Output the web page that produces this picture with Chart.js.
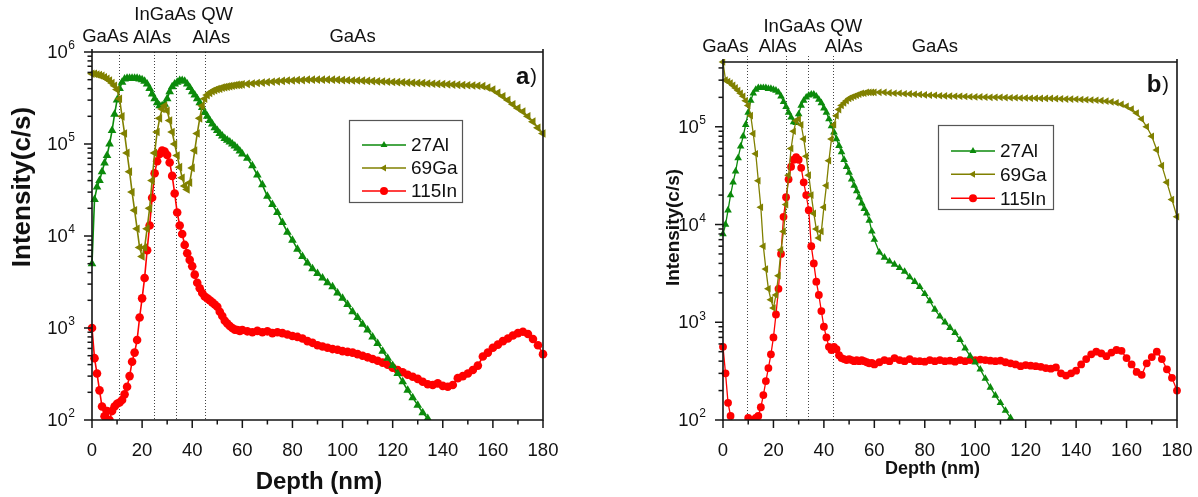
<!DOCTYPE html>
<html><head><meta charset="utf-8">
<script src="https://cdn.jsdelivr.net/npm/chart.js@4/dist/chart.umd.min.js"></script>
<style>
html,body{margin:0;padding:0;background:#fff;}
#wrap{position:relative;width:1198px;height:497px;overflow:hidden;background:#fff;}
canvas{position:absolute;top:0;}
</style></head><body>
<div id="wrap">
<canvas id="ca" width="600" height="497" style="left:0px"></canvas>
<canvas id="cb" width="598" height="497" style="left:600px"></canvas>
</div>
<script>
// ---------------- DATA ----------------
const depth = [0,1,2,3,4,5,6,7,8,9,10,11,12,13,14,15,16,17,18,19,20,21,22,23,24,25,26,27,28,29,30,
31,32,33,34,35,36,37,38,39,40,41,42,43,44,45,46,47,48,49,50,51,52,53,54,55,56,57,58,59,60,
62,64,66,68,70,72,74,76,78,80,82,84,86,88,90,92,94,96,98,100,102,104,106,108,110,112,114,116,118,120,
122,124,126,128,130,132,134,136,138,140,142,144,146,148,150,152,154,156,158,160,162,164,166,168,170,172,174,176,178,180];

const seriesNames = ['27Al','69Ga','115In'];

// panel a)
const al_a = [5e3,2.5e4,3.4e4,4e4,5e4,6.2e4,7.5e4,1e5,1.4e5,2.1e5,3e5,4e5,4.7e5,5.1e5,5.2e5,5.2e5,5.2e5,5.2e5,5.2e5,5.1e5,5e5,
4.8e5,4.5e5,4e5,3.5e5,3.1e5,2.8e5,2.6e5,2.6e5,2.7e5,3.1e5,3.7e5,4.2e5,4.5e5,4.7e5,4.9e5,4.9e5,4.8e5,4.5e5,4.1e5,3.7e5,
3.4e5,3.1e5,2.8e5,2.5e5,2.2e5,2e5,1.8e5,1.65e5,1.5e5,1.4e5,1.3e5,1.22e5,1.15e5,1.1e5,1.05e5,1e5,9.5e4,9e4,8.4e4,7.8e4,
7e4,5.8e4,4.6e4,3.6e4,2.7e4,2.2e4,1.8e4,1.4e4,1.1e4,9e3,7.2e3,6e3,5.1e3,4.4e3,3.9e3,3.5e3,3.1e3,2.8e3,2.4e3,2.1e3,
1.8e3,1.5e3,1.3e3,1.1e3,950,800,680,560,470,390,320,260,210,175,145,120,104,88,
null,null,null,null,null,null,null,null,null,null,null,null,null,null,null,null,null,null,null,null,null,null];
const ga_a = [5.8e5,5.8e5,5.7e5,5.6e5,5.5e5,5.3e5,5.1e5,4.9e5,4.6e5,4.3e5,3.9e5,3.1e5,2e5,1.3e5,8e4,5e4,3e4,1.9e4,1.2e4,7.5e3,6e3,
7.5e3,1.2e4,2e4,4e4,8e4,1.35e5,1.9e5,2.4e5,2.6e5,2.3e5,1.8e5,1.35e5,1e5,7.5e4,5.6e4,4.3e4,3.5e4,3.2e4,3.8e4,5.5e4,
8.5e4,1.3e5,1.9e5,2.6e5,3.1e5,3.4e5,3.6e5,3.75e5,3.85e5,3.95e5,4e5,4.1e5,4.15e5,4.2e5,4.25e5,4.3e5,4.35e5,4.4e5,4.4e5,4.45e5,
4.5e5,4.55e5,4.6e5,4.65e5,4.7e5,4.75e5,4.8e5,4.85e5,4.9e5,4.9e5,4.95e5,4.95e5,5e5,5e5,5e5,5e5,5e5,5e5,4.98e5,4.95e5,
4.93e5,4.9e5,4.9e5,4.88e5,4.85e5,4.83e5,4.8e5,4.78e5,4.75e5,4.72e5,4.7e5,4.68e5,4.65e5,4.62e5,4.6e5,4.58e5,4.55e5,4.52e5,4.5e5,4.47e5,
4.45e5,4.42e5,4.4e5,4.37e5,4.35e5,4.32e5,4.3e5,4.25e5,4.1e5,3.9e5,3.6e5,3.3e5,3e5,2.7e5,2.45e5,2.25e5,2e5,1.75e5,1.5e5,1.3e5];
const in_a = [1e3,470,320,210,140,110,125,100,125,140,150,155,165,190,230,300,430,540,740,1.3e3,2.1e3,
3.5e3,7e3,1.3e4,2.6e4,4.8e4,6.5e4,7.8e4,8.5e4,8.3e4,7.6e4,6.3e4,4.5e4,2.9e4,1.8e4,1.3e4,1.05e4,8e3,6.5e3,5.5e3,4.7e3,
3.8e3,3.1e3,2.7e3,2.4e3,2.2e3,2.1e3,2e3,1.9e3,1.8e3,1.7e3,1.5e3,1.35e3,1.2e3,1.12e3,1.05e3,1e3,960,950,930,950,
920,900,930,900,920,880,900,880,850,820,800,770,720,690,650,630,610,590,580,560,
550,540,520,500,480,460,440,420,400,370,350,330,310,295,280,260,245,240,250,235,
230,240,285,300,320,350,390,490,540,610,660,720,770,830,880,910,860,760,650,520];

// panel b)
const al_b = [8e3,1e4,1.4e4,2e4,2.7e4,3.5e4,4.8e4,6.3e4,8e4,1.05e5,1.4e5,1.85e5,2.2e5,2.4e5,2.5e5,2.5e5,2.5e5,2.5e5,2.45e5,2.45e5,2.4e5,
2.35e5,2.25e5,2.05e5,1.8e5,1.6e5,1.4e5,1.25e5,1.12e5,1.1e5,1.35e5,1.65e5,1.85e5,2e5,2.1e5,2.15e5,2.15e5,2.05e5,1.9e5,1.75e5,1.55e5,
1.4e5,1.2e5,1.02e5,8.8e4,7.5e4,6.4e4,5.5e4,4.6e4,3.9e4,3.4e4,2.9e4,2.5e4,2.2e4,1.9e4,1.65e4,1.45e4,1.3e4,1.1e4,8.5e3,7e3,
5.2e3,4.6e3,4.2e3,3.9e3,3.6e3,3.3e3,2.9e3,2.6e3,2.3e3,1.95e3,1.65e3,1.35e3,1.15e3,1e3,880,780,660,540,450,390,
330,265,215,178,150,125,105,88,
null,null,null,null,null,null,null,null,null,null,null,null,null,null,null,null,null,null,null,null,null,null,null,null,null,null,null,null,null,null,null,null];
const ga_b = [4.6e5,3e5,2.9e5,2.8e5,2.65e5,2.5e5,2.35e5,2.2e5,2.05e5,1.85e5,1.65e5,1.3e5,8.5e4,5.3e4,2.8e4,1.5e4,6e3,3.5e3,2.2e3,1.7e3,1.4e3,
1.9e3,3e3,5.5e3,8.5e3,1.6e4,3.2e4,6e4,9e4,1.15e5,1.2e5,1.05e5,7.5e4,5e4,3.2e4,2e4,1.3e4,9e3,7.3e3,8.5e3,1.5e4,
2.5e4,4.5e4,7.5e4,1.05e5,1.3e5,1.5e5,1.65e5,1.75e5,1.85e5,1.95e5,2e5,2.05e5,2.1e5,2.15e5,2.2e5,2.2e5,2.25e5,2.25e5,2.25e5,2.25e5,
2.25e5,2.25e5,2.22e5,2.2e5,2.2e5,2.18e5,2.17e5,2.15e5,2.14e5,2.12e5,2.1e5,2.1e5,2.08e5,2.07e5,2.06e5,2.05e5,2.05e5,2.04e5,2.03e5,2.02e5,
2.02e5,2.01e5,2e5,2e5,2e5,1.99e5,1.98e5,1.98e5,1.97e5,1.97e5,1.96e5,1.96e5,1.95e5,1.95e5,1.95e5,1.94e5,1.93e5,1.92e5,1.92e5,1.91e5,
1.9e5,1.89e5,1.88e5,1.87e5,1.85e5,1.83e5,1.8e5,1.76e5,1.7e5,1.62e5,1.52e5,1.38e5,1.2e5,1e5,8e4,5.8e4,4e4,2.7e4,1.8e4,1.2e4];
const in_b = [560,300,150,110,80,70,60,65,70,85,105,95,100,105,110,135,180,250,340,470,700,
1.2e3,2.2e3,5e3,1.2e4,1.9e4,2.9e4,3.9e4,4.6e4,4.9e4,4.6e4,3.8e4,2.7e4,2e4,1.4e4,6e3,4e3,2.6e3,1.9e3,1.3e3,900,
700,560,520,560,530,460,430,420,410,420,410,400,410,400,410,400,390,380,385,370,
390,410,400,430,410,400,420,400,400,395,410,400,410,400,405,395,410,400,410,410,
415,410,405,400,405,390,380,370,355,365,360,355,350,340,335,345,300,285,300,320,
370,420,470,500,480,450,490,520,510,430,370,310,290,380,440,500,420,330,270,200];

// axis ticks and labels
const xMajorTicks = [0,20,40,60,80,100,120,140,160,180];
const xMinorTicks = [10,30,50,70,90,110,130,150,170];
const yDecadeExps = [2,3,4,5,6];
const yMinorMults = [2,3,4,5,6,7,8,9];
const xTitle = 'Depth (nm)';
const yTitle = 'Intensity(c/s)';
const layerNames = ['GaAs','AlAs','InGaAs QW','AlAs','GaAs'];
const layerLabelDepth_a = [5.3,24,36.6,47.6,104];
const layerLabelDepth_b = [0.9,21.7,35.6,47.9,84];
const boundaries_a = [10.6,24.6,33.6,45.0];
const boundaries_b = [9.7,25.0,33.6,43.7];

// ---------------- DRAWING ----------------
const FONT = '"Liberation Sans", Arial, Helvetica, sans-serif';
const COLORS = ['#0b8a0b','#808000','#ff0000'];
const STYLES = ['triangle','triangle','circle'];
const ROTS = [0,-90,0];

function txt(ctx, s, x, y, font, align, base) {
  ctx.font = font; ctx.textAlign = align || 'center'; ctx.textBaseline = base || 'middle';
  ctx.fillText(s, x, y);
}
function marker(ctx, i, x, y, r) {
  ctx.fillStyle = COLORS[i];
  ctx.beginPath();
  if (i === 0) { ctx.moveTo(x, y - r); ctx.lineTo(x + 0.866*r, y + 0.5*r); ctx.lineTo(x - 0.866*r, y + 0.5*r); }
  else if (i === 1) { ctx.moveTo(x - r, y); ctx.lineTo(x + 0.5*r, y - 0.866*r); ctx.lineTo(x + 0.5*r, y + 0.866*r); }
  else { ctx.arc(x, y, r, 0, Math.PI*2); }
  ctx.closePath(); ctx.fill();
}

const decor = {
  id: 'decor',
  beforeDatasetsDraw(chart, args, o) {
    const ctx = chart.ctx, a = chart.chartArea, xs = chart.scales.x;
    ctx.save();
    ctx.strokeStyle = '#444'; ctx.lineWidth = 1; ctx.setLineDash([1, 2]);
    o.boundaries.forEach(d => {
      const x = Math.round(xs.getPixelForValue(d)) + 0.5;
      ctx.beginPath(); ctx.moveTo(x, a.top - o.bTop); ctx.lineTo(x, a.bottom); ctx.stroke();
    });
    ctx.restore();
  },
  afterDatasetsDraw(chart, args, o) {
    const ctx = chart.ctx, a = chart.chartArea, xs = chart.scales.x, ys = chart.scales.y;
    ctx.save();
    ctx.setLineDash([]);
    // frame
    ctx.strokeStyle = '#151515'; ctx.lineWidth = 1.6;
    ctx.beginPath();
    ctx.moveTo(a.left, a.top - 3); ctx.lineTo(a.left, a.bottom); ctx.lineTo(a.right, a.bottom);
    ctx.lineTo(a.right, a.top - 3); ctx.moveTo(a.left, a.top); ctx.lineTo(a.right, a.top);
    ctx.stroke();
    // x ticks
    ctx.lineWidth = 1.5;
    xMajorTicks.forEach(d => {
      const x = xs.getPixelForValue(d);
      ctx.beginPath(); ctx.moveTo(x, a.bottom); ctx.lineTo(x, a.bottom + 8); ctx.stroke();
    });
    xMinorTicks.forEach(d => {
      const x = xs.getPixelForValue(d);
      ctx.beginPath(); ctx.moveTo(x, a.bottom); ctx.lineTo(x, a.bottom + 4.5); ctx.stroke();
    });
    ctx.fillStyle = '#111';
    xMajorTicks.forEach(d => txt(ctx, String(d), xs.getPixelForValue(d), a.bottom + 31, '18.5px ' + FONT));
    // y ticks
    yDecadeExps.forEach(e => {
      const base = Math.pow(10, e);
      if (base > ys.max * 1.0001) return;
      const y = ys.getPixelForValue(base);
      ctx.beginPath(); ctx.moveTo(a.left - 8, y); ctx.lineTo(a.left, y); ctx.stroke();
      ctx.font = '12px ' + FONT; const ew = ctx.measureText(String(e)).width;
      const xr = a.left - 17;
      txt(ctx, String(e), xr, y - 6, '12px ' + FONT, 'right');
      txt(ctx, '10', xr - ew - 0.5, y + 1, '18.5px ' + FONT, 'right');
      yMinorMults.forEach(m => {
        const v = m * base;
        if (v > ys.max) return;
        const yy = ys.getPixelForValue(v);
        ctx.beginPath(); ctx.moveTo(a.left - 4.5, yy); ctx.lineTo(a.left, yy); ctx.stroke();
      });
    });
    // axis titles
    ctx.fillStyle = '#111';
    txt(ctx, xTitle, o.xTitle.x, o.xTitle.y, 'bold ' + o.xTitle.size + 'px ' + FONT);
    ctx.save(); ctx.translate(o.yTitle.x, o.yTitle.y); ctx.rotate(-Math.PI/2);
    txt(ctx, yTitle, 0, 0, 'bold ' + o.yTitle.size + 'px ' + FONT);
    ctx.restore();
    // layer labels
    o.layerDepth.forEach((d, i) => {
      txt(ctx, layerNames[i], xs.getPixelForValue(d), a.top + o.layerDy[i], '18.5px ' + FONT);
    });
    // panel letter
    ctx.font = 'bold 24px ' + FONT; const lw = ctx.measureText(o.letter).width;
    ctx.font = '20px ' + FONT; const pw = ctx.measureText(')').width;
    const lx = a.right - o.letterDx - pw - lw;
    txt(ctx, o.letter, lx, a.top + o.letterDy, 'bold 24px ' + FONT, 'left');
    txt(ctx, ')', lx + lw + 1, a.top + o.letterDy, '20px ' + FONT, 'left');
    // legend
    const L = o.legend;
    ctx.fillStyle = '#fff'; ctx.fillRect(L.x, L.y, L.w, L.h);
    ctx.strokeStyle = '#555'; ctx.lineWidth = 1.2;
    ctx.strokeRect(L.x + 0.5, L.y + 0.5, L.w, L.h);
    seriesNames.forEach((n, i) => {
      const yy = L.rows[i];
      ctx.strokeStyle = COLORS[i]; ctx.lineWidth = 1.5;
      ctx.beginPath(); ctx.moveTo(L.x + 13, yy); ctx.lineTo(L.x + 57, yy); ctx.stroke();
      marker(ctx, i, L.x + 35, yy, 4);
      ctx.fillStyle = '#111';
      txt(ctx, n, L.x + 62, yy + 1, '19px ' + FONT, 'left');
    });
    ctx.restore();
  }
};

function build(canvasId, vals, o) {
  const datasets = vals.map((arr, i) => ({
    label: seriesNames[i],
    data: depth.map((d, k) => ({x: d, y: arr[k]})),
    borderColor: COLORS[i], backgroundColor: COLORS[i],
    pointBackgroundColor: COLORS[i], pointBorderWidth: 0,
    pointStyle: STYLES[i], pointRotation: ROTS[i],
    pointRadius: o.r[i], borderWidth: o.lw, tension: 0, spanGaps: false,
    clip: {left: 6, right: 6, top: 3, bottom: 0}
  }));
  return new Chart(document.getElementById(canvasId), {
    type: 'line',
    data: {datasets: [datasets[1], datasets[0], datasets[2]]},
    options: {
      responsive: false, animation: false, events: [],
      layout: {padding: o.pad},
      scales: {
        x: {type: 'linear', min: 0, max: 180, display: false},
        y: {type: 'logarithmic', min: 100, max: o.yMax, display: false}
      },
      plugins: {legend: {display: false}, tooltip: {enabled: false}, decor: o}
    },
    plugins: [decor]
  });
}

build('ca', [al_a, ga_a, in_a], {
  pad: {left: 92, top: 52, right: 57, bottom: 77}, yMax: 1e6, r: [5, 5, 4.3], lw: 1.6,
  boundaries: boundaries_a, bTop: 0,
  layerDepth: layerLabelDepth_a, layerDy: [-15, -14, -37, -14, -15],
  xTitle: {x: 319, y: 482, size: 24}, yTitle: {x: 23, y: 187, size: 26},
  letter: 'a', letterDx: 7, letterDy: 25,
  legend: {x: 349, y: 120, w: 113, h: 82, rows: [145, 168, 191]}
});
build('cb', [al_b, ga_b, in_b], {
  pad: {left: 123, top: 62, right: 21, bottom: 77}, yMax: 4.6e5, r: [4.4, 4.4, 3.9], lw: 1.3,
  boundaries: boundaries_b, bTop: 6,
  layerDepth: layerLabelDepth_b, layerDy: [-15, -15, -35, -15, -15],
  xTitle: {x: 332.5, y: 469, size: 18}, yTitle: {x: 74, y: 227.5, size: 19},
  letter: 'b', letterDx: 9, letterDy: 23,
  legend: {x: 338, y: 125, w: 115, h: 84, rows: [151, 174.3, 198.3]}
});
</script>
</body></html>
